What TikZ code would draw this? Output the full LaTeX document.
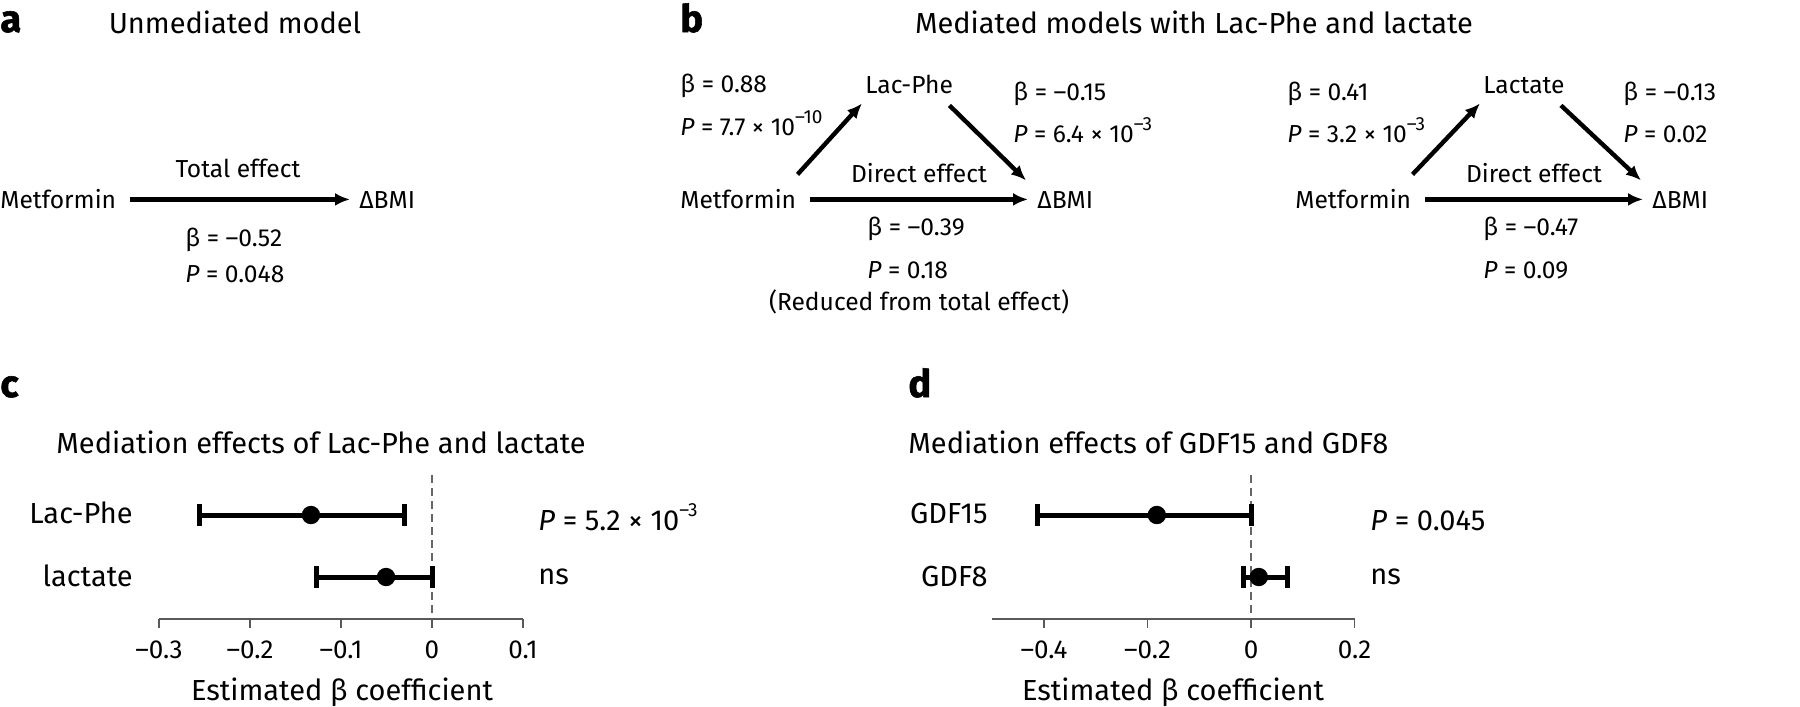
\documentclass[tikz,border=0pt]{standalone}
\usepackage{fontspec}
\setmainfont{Fira Sans}
\newfontfamily\panelfont[FakeBold=1.5]{Fira Sans}
\usetikzlibrary{arrows.meta,positioning}

% raised exponent of a P value
\newcommand{\sups}[1]{\raisebox{0.9ex}{\fontsize{9.5}{10}\selectfont #1}}

% one row of a forest plot: low, high, estimate, y
\newcommand{\ciRow}[4]{%
  \draw[errbar] (#1,#4) -- (#2,#4);
  \draw[errbar] (#1,{#4-11}) -- (#1,{#4+11});
  \draw[errbar] (#2,{#4-11}) -- (#2,{#4+11});
  \fill (#3,#4) circle[radius=4.6pt];}

\begin{document}
\begin{tikzpicture}[x=0.5pt,y=-0.5pt,>={Latex[length=7.5pt,width=6.5pt]},
    every node/.style={inner sep=0pt},
    lbl/.style={font=\fontsize{12.3}{14}\selectfont,anchor=base west},
    midlbl/.style={lbl,anchor=base},
    var/.style={lbl,text height=8.6pt,text depth=0pt},
    ttl/.style={font=\fontsize{14.5}{17}\selectfont,anchor=base},
    panel/.style={font=\fontsize{19}{22}\panelfont\bfseries,anchor=base west},
    eff/.style={->,line width=2.2pt},
    effh/.style={eff,shorten <=6.5pt,shorten >=4.5pt},
    rowlbl/.style={font=\fontsize{14.5}{17}\selectfont,anchor=base east},
    ticklbl/.style={font=\fontsize{13}{15}\selectfont,anchor=base},
    errbar/.style={line width=2.5pt},
    zeroline/.style={black!60,line width=0.7pt,dash pattern=on 4pt off 2.5pt},
    axisline/.style={black!65,line width=0.8pt}]
  \useasboundingbox (0,0) rectangle (1800,707);

  % a: unmediated model
  \node[panel] (pa) at (0,32) {a};
  \node[ttl] (ta) at (235,33) {Unmediated model};
  \node[var] (metA) at (0,208) {Metformin};
  \node[var] (bmiA) at (359,208) {ΔBMI};
  \draw[effh] (metA.east) -- (bmiA.west);
  \node[midlbl] (totA) at (238,177) {Total effect};
  \node[lbl] (betaA) at (185,246) {β = –0.52};
  \node[lbl] (pvalA) at (185,282) {\textit{P} = 0.048};

  % b: mediated models
  \node[panel] (pb) at (680,32) {b};
  \node[ttl] (tb) at (1194,33) {Mediated models with Lac-Phe and lactate};

  \node[var] (metB) at (680,208) {Metformin};
  \node[var] (lacB) at (865,93) {Lac-Phe};
  \node[var] (bmiB) at (1037,208) {ΔBMI};
  \draw[eff] ([shift={(1,-16)}]metB.north east) -- ([shift={(-3,10)}]lacB.south west);
  \draw[eff] ([shift={(-4,12)}]lacB.south east) -- ([shift={(-11,-10)}]bmiB.north west);
  \draw[effh] (metB.east) -- (bmiB.west);
  \node[lbl] (betaB1) at (680,92) {β = 0.88};
  \node[lbl] (pvalB1) at (680,135) {\textit{P} = 7.7 × 10\sups{–10}};
  \node[lbl] (betaB2) at (1013,100) {β = –0.15};
  \node[lbl] (pvalB2) at (1013,142) {\textit{P} = 6.4 × 10\sups{–3}};
  \node[midlbl] (dirB) at (919,182) {Direct effect};
  \node[lbl] (betaB3) at (867,235) {β = –0.39};
  \node[lbl] (pvalB3) at (867,278) {\textit{P} = 0.18};
  \node[midlbl] (redB) at (919,310) {(Reduced from total effect)};

  \node[var] (metC) at (1295,208) {Metformin};
  \node[var] (lacC) at (1483,93) {Lactate};
  \node[var] (bmiC) at (1652,208) {ΔBMI};
  \draw[eff] ([shift={(1,-16)}]metC.north east) -- ([shift={(-3,10)}]lacC.south west);
  \draw[eff] ([shift={(-4,12)}]lacC.south east) -- ([shift={(-11,-10)}]bmiC.north west);
  \draw[effh] (metC.east) -- (bmiC.west);
  \node[lbl] (betaC1) at (1287,100) {β = 0.41};
  \node[lbl] (pvalC1) at (1287,142) {\textit{P} = 3.2 × 10\sups{–3}};
  \node[lbl] (betaC2) at (1623,100) {β = –0.13};
  \node[lbl] (pvalC2) at (1623,142) {\textit{P} = 0.02};
  \node[midlbl] (dirC) at (1534,182) {Direct effect};
  \node[lbl] (betaC3) at (1483,235) {β = –0.47};
  \node[lbl] (pvalC3) at (1483,278) {\textit{P} = 0.09};

  % c: Lac-Phe and lactate
  \node[panel] (pc) at (0,397) {c};
  \node[ttl,anchor=base west] (tc) at (56,453) {Mediation effects of Lac-Phe and lactate};
  \node[rowlbl] (rLac) at (133,523) {Lac-Phe};
  \node[rowlbl] (rLact) at (133,586) {lactate};
  \node[ttl,anchor=base west] (sLac) at (538,530) {\textit{P} = 5.2 × 10\sups{–3}};
  \node[ttl,anchor=base west] (sLact) at (538,584) {ns};
  \begin{scope}[shift={(432,0)},x=455pt]
    \draw[zeroline] (0,475) -- (0,628);
    \draw[axisline] (-0.3,619) -- (0.1,619);
    \foreach \v/\t in {-0.3/–0.3,-0.2/–0.2,-0.1/–0.1,0/0,0.1/0.1}{
      \draw[axisline] (\v,619) -- (\v,628);
      \node[ticklbl] at (\v,658) {\t};}
    \ciRow{-0.255}{-0.030}{-0.133}{515}
    \ciRow{-0.127}{0}{-0.0505}{577}
  \end{scope}
  \node[ttl] (xc) at (342,700) {Estimated β coefficient};

  % d: GDF15 and GDF8
  \node[panel] (pd) at (908,397) {d};
  \node[ttl,anchor=base west] (td) at (908,453) {Mediation effects of GDF15 and GDF8};
  \node[rowlbl] (rG15) at (988,523) {GDF15};
  \node[rowlbl] (rG8) at (988,586) {GDF8};
  \node[ttl,anchor=base west] (sG15) at (1370,530) {\textit{P} = 0.045};
  \node[ttl,anchor=base west] (sG8) at (1370,584) {ns};
  \begin{scope}[shift={(1251,0)},x=258.75pt]
    \draw[zeroline] (0,475) -- (0,628);
    \draw[axisline] (-0.5,619) -- (0.2,619);
    \foreach \v/\t in {-0.4/–0.4,-0.2/–0.2,0/0,0.2/0.2}{
      \draw[axisline] (\v,619) -- (\v,628);
      \node[ticklbl] at (\v,658) {\t};}
    \ciRow{-0.412}{0}{-0.182}{515}
    \ciRow{-0.015}{0.070}{0.015}{577}
  \end{scope}
  \node[ttl] (xd) at (1173,700) {Estimated β coefficient};
\end{tikzpicture}
\end{document}
